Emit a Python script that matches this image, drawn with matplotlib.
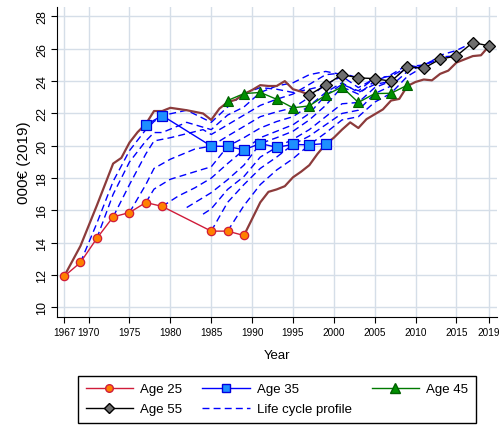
import numpy as np
import matplotlib.pyplot as plt
from matplotlib.lines import Line2D

plt.rcParams['font.family'] = ['Liberation Sans', 'DejaVu Sans']

# markers at fixed ages (year, 000 EUR of 2019)
age25_years = [1967, 1969, 1971, 1973, 1975, 1977, 1979, 1985, 1987, 1989]
age25_vals = [11.92, 12.78, 14.27, 15.6, 15.87, 16.49, 16.25, 14.72, 14.72, 14.45]

age35_years = [1977, 1979, 1985, 1987, 1989, 1991, 1993, 1995, 1997, 1999]
age35_vals = [21.29, 21.87, 19.98, 19.96, 19.75, 20.14, 19.91, 20.08, 20.06, 20.14]

age45_years = [1987, 1989, 1991, 1993, 1995, 1997, 1999, 2001, 2003, 2005, 2007, 2009]
age45_vals = [22.8, 23.23, 23.3, 22.88, 22.35, 22.47, 23.13, 23.64, 22.68, 23.23, 23.25, 23.75]

age55_years = [1997, 1999, 2001, 2003, 2005, 2007, 2009, 2011, 2013, 2015, 2017, 2019]
age55_vals = [23.15, 23.75, 24.41, 24.2, 24.16, 23.99, 24.88, 24.8, 25.36, 25.56, 26.39, 26.18]

# first and last cohort profiles (solid)
first_years = [1967, 1969, 1971, 1972, 1973, 1974, 1975, 1976, 1977, 1978, 1979, 1980,
               1982, 1984, 1985, 1986, 1987, 1988, 1989, 1990, 1991, 1992, 1993, 1994,
               1995, 1996, 1997]
first_vals = [11.92, 13.8, 16.3, 17.6, 18.9, 19.25, 20.2, 20.85, 21.35, 22.15, 22.15, 22.35,
              22.2, 22.0, 21.6, 22.3, 22.7, 22.85, 23.2, 23.45, 23.75, 23.7, 23.7, 24.0,
              23.5, 23.35, 23.15]

last_years = [1989, 1991, 1992, 1993, 1994, 1995, 1996, 1997, 1998, 1999, 2000, 2001,
              2002, 2003, 2004, 2005, 2006, 2007, 2008, 2009, 2010, 2011, 2012, 2013,
              2014, 2015, 2016, 2017, 2018, 2019]
last_vals = [14.45, 16.5, 17.15, 17.3, 17.5, 18.05, 18.4, 18.8, 19.5, 20.1, 20.5, 21.0,
             21.45, 21.1, 21.65, 21.95, 22.25, 22.8, 22.9, 23.7, 23.95, 24.1, 24.05, 24.45,
             24.65, 25.15, 25.35, 25.55, 25.6, 26.18]

# intermediate cohort profiles (dashed)
c1969_years = [1969, 1971, 1973, 1975, 1977, 1978, 1979, 1982, 1985, 1987, 1989, 1991, 1993, 1995, 1997, 1999]
c1969_vals = [12.78, 15.2, 17.8, 19.7, 21.0, 21.5, 21.87, 22.2, 21.45, 22.4, 23.23, 23.6, 23.5, 23.3, 23.5, 23.75]

c1971_years = [1971, 1973, 1975, 1977, 1978, 1979, 1982, 1985, 1987, 1989, 1991, 1993, 1995, 1997, 1999, 2001]
c1971_vals = [14.27, 17.0, 19.0, 20.3, 20.82, 20.82, 21.45, 21.0, 21.9, 22.4, 23.3, 23.7, 23.9, 24.4, 24.6, 24.41]

c1973_years = [1973, 1975, 1977, 1978, 1980, 1984, 1985, 1987, 1989, 1991, 1993, 1995, 1997, 1999, 2001, 2003]
c1973_vals = [15.6, 17.6, 19.5, 20.3, 20.5, 21.0, 20.7, 21.3, 21.9, 22.5, 22.88, 23.2, 23.8, 24.4, 24.5, 24.2]

c1975_years = [1975, 1977, 1978, 1980, 1983, 1985, 1987, 1989, 1991, 1993, 1995, 1997, 1999, 2001, 2003, 2005]
c1975_vals = [15.87, 17.6, 18.6, 19.17, 19.8, 19.98, 20.6, 21.2, 21.8, 22.1, 22.35, 23.0, 23.8, 24.3, 23.6, 24.16]

c1977_years = [1977, 1978, 1980, 1984, 1985, 1987, 1989, 1991, 1993, 1995, 1997, 1999, 2001, 2003, 2005, 2007]
c1977_vals = [16.49, 17.32, 17.93, 18.55, 18.7, 19.96, 20.5, 21.1, 21.5, 21.8, 22.47, 23.3, 23.9, 23.3, 23.8, 23.99]

c1979_years = [1979, 1981, 1983, 1985, 1987, 1989, 1991, 1993, 1995, 1997, 1999, 2001, 2003, 2005, 2007, 2009]
c1979_vals = [16.25, 16.9, 17.4, 18.0, 18.9, 19.75, 20.5, 20.9, 21.3, 22.0, 23.13, 23.8, 23.4, 24.2, 24.3, 24.88]

c1981_years = [1982, 1985, 1987, 1989, 1991, 1993, 1995, 1997, 1999, 2001, 2003, 2005, 2007, 2009, 2011]
c1981_vals = [16.18, 17.1, 17.9, 18.8, 20.14, 20.5, 20.9, 21.6, 22.5, 23.64, 23.2, 24.0, 24.4, 25.0, 24.8]

c1983_years = [1984, 1985, 1987, 1989, 1991, 1993, 1995, 1997, 1999, 2001, 2003, 2005, 2007, 2009, 2011, 2013]
c1983_vals = [15.77, 16.1, 17.3, 18.1, 19.3, 19.91, 20.4, 21.0, 21.8, 22.6, 22.68, 23.6, 24.0, 24.9, 25.0, 25.36]

c1985_years = [1985, 1987, 1989, 1991, 1993, 1995, 1997, 1999, 2001, 2003, 2005, 2007, 2009, 2011, 2013, 2015]
c1985_vals = [14.72, 16.5, 17.6, 18.6, 19.3, 20.08, 20.6, 21.3, 22.0, 22.2, 23.23, 23.7, 24.6, 25.0, 25.5, 25.56]

c1987_years = [1987, 1989, 1991, 1993, 1995, 1997, 1999, 2001, 2003, 2005, 2007, 2009, 2011, 2013, 2015, 2017]
c1987_vals = [14.72, 16.3, 17.6, 18.5, 19.2, 20.06, 20.8, 21.6, 21.8, 22.7, 23.25, 24.3, 24.9, 25.6, 25.9, 26.39]

dashed = [(c1969_years, c1969_vals), (c1971_years, c1971_vals), (c1973_years, c1973_vals),
          (c1975_years, c1975_vals), (c1977_years, c1977_vals), (c1979_years, c1979_vals),
          (c1981_years, c1981_vals), (c1983_years, c1983_vals), (c1985_years, c1985_vals),
          (c1987_years, c1987_vals)]

xticks = [1967, 1970, 1975, 1980, 1985, 1990, 1995, 2000, 2005, 2010, 2015, 2019]
yticks = np.arange(10, 29, 2)

fig = plt.figure(figsize=(5, 4.27), dpi=100)
ax = fig.add_axes([0.113, 0.255, 0.881, 0.726])

for x in xticks:
    ax.axvline(x, color='#d5dee8', lw=1, zorder=0)
for y in yticks:
    ax.axhline(y, color='#d5dee8', lw=1, zorder=0)

for yrs, vals in dashed:
    ax.plot(yrs, vals, color='#0000ff', lw=1.0, dashes=(5, 3), zorder=2)

ax.plot(first_years, first_vals, color='#8c3b3b', lw=1.6, zorder=3)
ax.plot(last_years, last_vals, color='#8c3b3b', lw=1.6, zorder=3)

ax.plot(age25_years, age25_vals, color='#d01c3a', lw=1.0, marker='o', ms=6,
        mfc='#ff8000', mec='#d01c3a', mew=0.9, zorder=5)
ax.plot(age35_years, age35_vals, color='#0000ff', lw=1.0, marker='s', ms=6.5,
        mfc='#1e8fff', mec='#0000e0', mew=0.9, zorder=5)
ax.plot(age45_years, age45_vals, color='#007a00', lw=1.0, marker='^', ms=7,
        mfc='#009000', mec='#006000', mew=0.8, zorder=5)
ax.plot(age55_years, age55_vals, color='#000000', lw=1.0, marker='D', ms=6.5,
        mfc='#6e6e6e', mec='#000000', mew=0.9, zorder=5)

ax.set_xlim(1966.07, 2019.96)
ax.set_ylim(9.4, 28.58)
ax.set_xticks(xticks)
ax.set_yticks(yticks)
ax.tick_params(axis='x', labelsize=7.2, length=4, pad=3)
ax.tick_params(axis='y', labelsize=9, length=4, pad=2)
for lab in ax.get_yticklabels():
    lab.set_rotation(90)
    lab.set_va('center')
ax.spines['top'].set_visible(False)
ax.spines['right'].set_visible(False)
ax.set_xlabel('Year', fontsize=9.5, labelpad=9)
ax.set_ylabel('000€ (2019)', fontsize=11, labelpad=4)

handles = [
    Line2D([], [], color='#d01c3a', lw=1.0, marker='o', ms=5.5, mfc='#ff8000', mec='#d01c3a'),
    Line2D([], [], color='#000000', lw=1.0, marker='D', ms=5.5, mfc='#6e6e6e', mec='#000000'),
    Line2D([], [], color='#0000ff', lw=1.0, marker='s', ms=5.5, mfc='#1e8fff', mec='#0000e0'),
    Line2D([], [], color='#0000ff', lw=1.0, dashes=(5, 3)),
    Line2D([], [], color='#007a00', lw=1.0, marker='^', ms=6.5, mfc='#009000', mec='#006000'),
]
labels = ['Age 25', 'Age 55', 'Age 35', 'Life cycle profile', 'Age 45']
leg = fig.legend(handles, labels, ncol=3, loc='center', bbox_to_anchor=(0.554, 0.063),
                 fontsize=9.5, handlelength=3.6, handletextpad=0.55, columnspacing=1.5,
                 labelspacing=0.6, borderpad=0.55, fancybox=False, framealpha=1)
leg.get_frame().set_edgecolor('#000000')
leg.get_frame().set_linewidth(1.0)

fig.savefig('out.png', dpi=100)
